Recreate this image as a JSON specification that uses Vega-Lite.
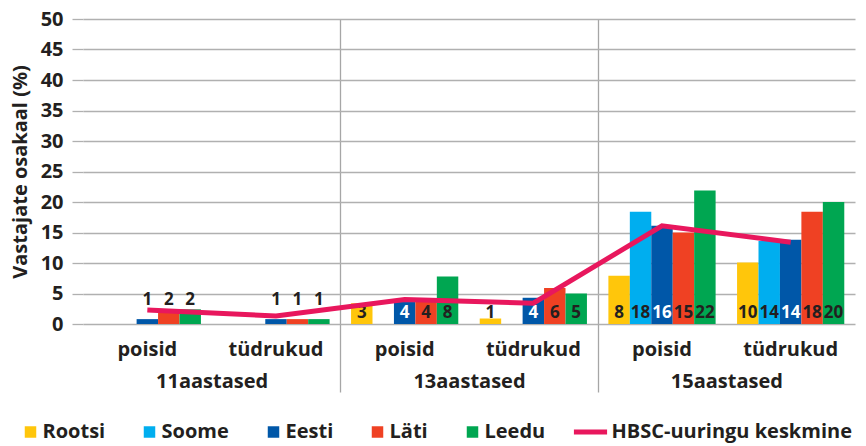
{
  "$schema": "https://vega.github.io/schema/vega-lite/v6.json",
  "width": 772,
  "height": 305,
  "autosize": {"type": "none"},
  "padding": {"left": 83, "top": 19, "right": 11, "bottom": 122},
  "background": "white",
  "config": {
    "view": {"stroke": null},
    "font": "Open Sans",
    "axis": {"labelFont": "Open Sans", "titleFont": "Open Sans"},
    "axisY": {
      "titleFontSize": 20,
      "titleFontWeight": "bold",
      "titleColor": "#231f20",
      "titlePadding": 10,
      "labelOverlap": false,
      "domain": false,
      "grid": true,
      "gridColor": "#b0b0b0",
      "gridWidth": 1.3,
      "tickColor": "#b0b0b0",
      "tickWidth": 1.3,
      "tickSize": 11,
      "labelPadding": 9,
      "labelFontSize": 20,
      "labelFontWeight": "bold",
      "labelColor": "#231f20"
    }
  },
  "datasets": {
    "bars": [
      {"sub": "11 poisid", "country": "Eesti", "value": 0.8},
      {"sub": "11 poisid", "country": "Läti", "value": 1.8},
      {"sub": "11 poisid", "country": "Leedu", "value": 2.4},
      {"sub": "11 tüdrukud", "country": "Eesti", "value": 0.8},
      {"sub": "11 tüdrukud", "country": "Läti", "value": 0.8},
      {"sub": "11 tüdrukud", "country": "Leedu", "value": 0.8},
      {"sub": "13 poisid", "country": "Rootsi", "value": 3.4},
      {"sub": "13 poisid", "country": "Eesti", "value": 3.6},
      {"sub": "13 poisid", "country": "Läti", "value": 3.7},
      {"sub": "13 poisid", "country": "Leedu", "value": 7.8},
      {"sub": "13 tüdrukud", "country": "Rootsi", "value": 0.9},
      {"sub": "13 tüdrukud", "country": "Eesti", "value": 4.3},
      {"sub": "13 tüdrukud", "country": "Läti", "value": 5.9},
      {"sub": "13 tüdrukud", "country": "Leedu", "value": 5.0},
      {"sub": "15 poisid", "country": "Rootsi", "value": 7.9},
      {"sub": "15 poisid", "country": "Soome", "value": 18.4},
      {"sub": "15 poisid", "country": "Eesti", "value": 16.1},
      {"sub": "15 poisid", "country": "Läti", "value": 15.0},
      {"sub": "15 poisid", "country": "Leedu", "value": 21.9},
      {"sub": "15 tüdrukud", "country": "Rootsi", "value": 10.1},
      {"sub": "15 tüdrukud", "country": "Soome", "value": 13.6},
      {"sub": "15 tüdrukud", "country": "Eesti", "value": 13.8},
      {"sub": "15 tüdrukud", "country": "Läti", "value": 18.4},
      {"sub": "15 tüdrukud", "country": "Leedu", "value": 20.0}
    ],
    "avg": [
      {"sub": "11 poisid", "avg": 2.3},
      {"sub": "11 tüdrukud", "avg": 1.3},
      {"sub": "13 poisid", "avg": 4.0},
      {"sub": "13 tüdrukud", "avg": 3.4},
      {"sub": "15 poisid", "avg": 16.1},
      {"sub": "15 tüdrukud", "avg": 13.4}
    ],
    "ages": [
      {"age": "11aastased"},
      {"age": "13aastased"},
      {"age": "15aastased"}
    ]
  },
  "layer": [
    {
      "layer": [
        {
          "data": {"name": "bars"},
          "mark": {"type": "bar"},
          "encoding": {
            "x": {
              "field": "sub",
              "type": "nominal",
              "scale": {
                "domain": ["11 poisid", "11 tüdrukud", "13 poisid", "13 tüdrukud", "15 poisid", "15 tüdrukud"],
                "paddingInner": 0,
                "paddingOuter": 0
              },
              "axis": {
                "title": null,
                "orient": "bottom",
                "domain": false,
                "ticks": false,
                "tickSize": 0,
                "grid": false,
                "labelAngle": 0,
                "labelPadding": 15,
                "labelFontSize": 20,
                "labelFontWeight": "bold",
                "labelColor": "#231f20",
                "labelExpr": "split(datum.label, ' ')[1]"
              }
            },
            "xOffset": {
              "field": "country",
              "type": "nominal",
              "scale": {
                "domain": ["Rootsi", "Soome", "Eesti", "Läti", "Leedu"],
                "paddingInner": 0,
                "paddingOuter": 0.5
              }
            },
            "y": {
              "field": "value",
              "type": "quantitative",
              "scale": {"domain": [0, 50], "nice": false},
              "axis": {"title": "Vastajate osakaal (%)", "values": [0, 5, 10, 15, 20, 25, 30, 35, 40, 45, 50]}
            },
            "color": {
              "field": "country",
              "type": "nominal",
              "scale": {
                "domain": ["Rootsi", "Soome", "Eesti", "Läti", "Leedu", "HBSC-uuringu keskmine"],
                "range": ["#ffc60b", "#00aeef", "#0057a8", "#ef4123", "#00a651", "#e8175d"]
              },
              "legend": {
                "title": null,
                "orient": "none",
                "legendX": -78.5,
                "legendY": 403,
                "direction": "horizontal",
                "columns": 6,
                "columnPadding": 18,
                "labelFont": "Open Sans",
                "labelFontSize": 20,
                "labelFontWeight": "bold",
                "labelColor": "#231f20",
                "labelLimit": 400,
                "labelOffset": 18,
                "symbolType": "square",
                "symbolSize": 1100,
                "symbolStrokeWidth": 0,
                "encode": {
                  "symbols": {
                    "update": {
                      "shape": {"signal": "datum.value === 'HBSC-uuringu keskmine' ? 'stroke' : 'square'"},
                      "size": {"signal": "datum.value === 'HBSC-uuringu keskmine' ? 1100 : 132"},
                      "x": {"signal": "datum.value === 'HBSC-uuringu keskmine' ? 17 : 26"},
                      "strokeWidth": {"signal": "datum.value === 'HBSC-uuringu keskmine' ? 5 : 0"},
                      "stroke": {"signal": "scale('color', datum.value)"},
                      "fill": {"signal": "scale('color', datum.value)"}
                    }
                  }
                }
              }
            }
          }
        },
        {
          "data": {"name": "bars"},
          "transform": [{"filter": "datum.sub !== '11 poisid' && datum.sub !== '11 tüdrukud'"}],
          "mark": {"type": "text", "baseline": "bottom", "dy": -2, "fontSize": 17, "fontWeight": "bold", "font": "Open Sans"},
          "encoding": {
            "x": {"field": "sub", "type": "nominal"},
            "xOffset": {"field": "country", "type": "nominal"},
            "y": {"datum": 0, "type": "quantitative", "axis": {"title": "Vastajate osakaal (%)", "values": [0, 5, 10, 15, 20, 25, 30, 35, 40, 45, 50]}},
            "text": {"field": "value", "type": "quantitative", "format": ".0f"},
            "color": {
              "condition": {"test": "datum.country === 'Eesti'", "value": "#ffffff"},
              "value": "#231f20"
            }
          }
        },
        {
          "data": {"name": "bars"},
          "transform": [{"filter": "datum.sub === '11 poisid' || datum.sub === '11 tüdrukud'"}],
          "mark": {"type": "text", "baseline": "middle", "fontSize": 17, "fontWeight": "bold", "font": "Open Sans", "color": "#231f20"},
          "encoding": {
            "x": {"field": "sub", "type": "nominal"},
            "xOffset": {"field": "country", "type": "nominal"},
            "y": {"datum": 3.9, "type": "quantitative", "axis": {"title": "Vastajate osakaal (%)", "values": [0, 5, 10, 15, 20, 25, 30, 35, 40, 45, 50]}},
            "text": {"field": "value", "type": "quantitative", "format": ".0f"}
          }
        },
        {
          "data": {"name": "avg"},
          "mark": {"type": "line", "strokeWidth": 5},
          "encoding": {
            "x": {"field": "sub", "type": "nominal"},
            "y": {"field": "avg", "type": "quantitative", "axis": {"title": "Vastajate osakaal (%)", "values": [0, 5, 10, 15, 20, 25, 30, 35, 40, 45, 50]}},
            "color": {"datum": "HBSC-uuringu keskmine", "type": "nominal"}
          }
        }
      ]
    },
    {
      "data": {"name": "ages"},
      "mark": {"type": "point", "opacity": 0},
      "encoding": {
        "x": {
          "field": "age",
          "type": "nominal",
          "scale": {"paddingInner": 0, "paddingOuter": 0},
          "axis": {
            "title": null,
            "orient": "bottom",
            "domain": false,
            "ticks": true,
            "tickSize": 68,
            "tickBand": "extent",
            "tickColor": {"condition": {"test": "datum.value === '15aastased' || datum.index < 0 || !isValid(datum.value)", "value": "transparent"}, "value": "#a6a6a6"},
            "tickWidth": 1.3,
            "grid": true,
            "gridColor": {"condition": {"test": "datum.value === '15aastased' || datum.index < 0 || !isValid(datum.value)", "value": "transparent"}, "value": "#a6a6a6"},
            "gridWidth": 1.3,
            "labelAngle": 0,
            "labelPadding": -21,
            "labelFontSize": 20,
            "labelFontWeight": "bold",
            "labelColor": "#231f20"
          }
        }
      }
    }
  ],
  "resolve": {"scale": {"x": "independent"}}
}
